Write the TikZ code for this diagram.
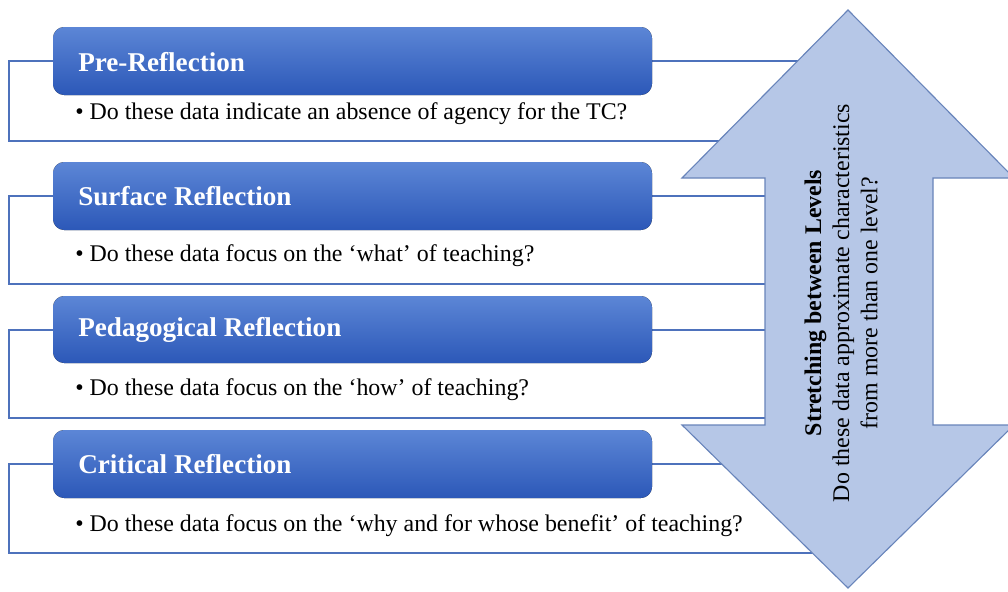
\documentclass[tikz,border=0pt]{standalone}
\usepackage{fontspec}
\setmainfont{Liberation Serif}
\usetikzlibrary{positioning}
\definecolor{boxline}{RGB}{78,114,188}
\definecolor{headtop}{RGB}{92,134,214}
\definecolor{headbot}{RGB}{44,88,184}
\definecolor{arrowfill}{RGB}{182,199,231}
\definecolor{arrowline}{RGB}{104,132,186}

\tikzset{
    levelbox/.style={draw=boxline, line width=1.1pt, fill=white},
    levelhead/.style={rounded corners=8pt, top color=headtop, bottom color=headbot, draw=none},
    headtext/.style={anchor=west, inner sep=0pt, text=white, font=\fontsize{19.3}{22}\selectfont\bfseries},
    qtext/.style={anchor=west, inner sep=0pt, font=\fontsize{17}{20}\selectfont},
}

\begin{document}
\begin{tikzpicture}[x=0.025cm, y=-0.025cm]
    \useasboundingbox (0, 0) rectangle (1008, 592);

    % Outer boxes of the four levels
    \draw[levelbox] (9, 61) rectangle (840, 141);
    \draw[levelbox] (9, 196) rectangle (840, 284);
    \draw[levelbox] (9, 330) rectangle (840, 418);
    \draw[levelbox] (9, 464) rectangle (840, 553);

    % Headers
    \fill[levelhead] (53, 27) rectangle (652, 95);
    \fill[levelhead] (53, 162) rectangle (652, 230);
    \fill[levelhead] (53, 296) rectangle (652, 363);
    \fill[levelhead] (53, 430) rectangle (652, 498);
    \node[headtext] (pre) at (78, 62) {Pre-Reflection};
    \node[headtext] (surface) at (78, 196) {Surface Reflection};
    \node[headtext] (pedagogical) at (78, 330) {Pedagogical Reflection};
    \node[headtext] (critical) at (78, 464) {Critical Reflection};

    % Questions
    \node[qtext] (qpre) at (75, 114) {\textbullet\ Do these data indicate an absence of agency for the TC?};
    \node[qtext] (qsurface) at (75, 256) {\textbullet\ Do these data focus on the ‘what’ of teaching?};
    \node[qtext] (qpedagogical) at (75, 390) {\textbullet\ Do these data focus on the ‘how’ of teaching?};
    \node[qtext] (qcritical) at (75, 526) {\textbullet\ Do these data focus on the ‘why and for whose benefit’ of teaching?};

    % Double arrow between the levels
    \draw[fill=arrowfill, draw=arrowline, line width=0.8pt]
        (848, 10) -- (1014, 178) -- (933, 178) -- (933, 425) -- (1014, 425)
        -- (848, 588) -- (682, 425) -- (765, 425) -- (765, 178) -- (682, 178) -- cycle;
    \node[rotate=90, align=center, font=\fontsize{17}{20}\selectfont] (stretch) at (841, 303)
        {\textbf{Stretching between Levels}\\Do these data approximate characteristics\\from more than one level?};
\end{tikzpicture}
\end{document}
